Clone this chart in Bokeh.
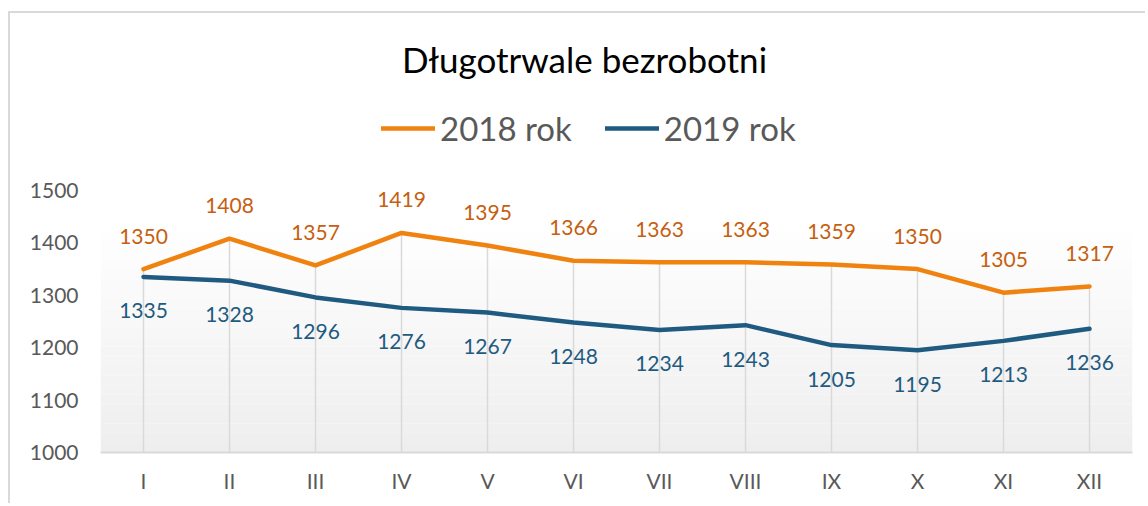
from bokeh.plotting import figure
from bokeh.models import (ColumnDataSource, Legend, LegendItem, Label, BoxAnnotation,
                          FixedTicker, FactorRange, Range1d)
from bokeh.embed import file_html
from bokeh.resources import INLINE
from bokeh.core.properties import value

# ---- data ----
months = ["I", "II", "III", "IV", "V", "VI", "VII", "VIII", "IX", "X", "XI", "XII"]
y2018 = [1350, 1408, 1357, 1419, 1395, 1366, 1363, 1363, 1359, 1350, 1305, 1317]
y2019 = [1335, 1328, 1296, 1276, 1267, 1248, 1234, 1243, 1205, 1195, 1213, 1236]
y_ticks = [1000, 1100, 1200, 1300, 1400, 1500]
title_text = "Długotrwale bezrobotni"
series_names = ["2018 rok", "2019 rok"]

ORANGE = "#f0820f"
ORANGE_TXT = "#c5600f"
BLUE = "#1f5b80"
BLUE_TXT = "#1f5b80"
GRAY_TXT = "#595959"
FONT = "Lato"

W, H = 1137, 492
FL, FR = 90, 1122          # frame left/right in canvas px
AXIS_TOP, FB = 177, 439    # pixel rows of the 1500 tick and of the axis (canvas px)

# frame reaches the canvas top so the title and legend can sit inside it
y_end = y_ticks[0] + (y_ticks[-1] - y_ticks[0]) * FB / (FB - AXIS_TOP)

src = ColumnDataSource(dict(
    m=months, a=y2018, b=y2019,
    at=[str(v) for v in y2018], bt=[str(v) for v in y2019],
    base=[y_ticks[0]] * len(months),
))

p = figure(width=W, height=H, x_range=FactorRange(*months, range_padding=0),
           y_range=Range1d(y_ticks[0], y_end),
           output_backend="svg", toolbar_location=None,
           min_border_left=FL, min_border_right=W - FR,
           min_border_top=0, min_border_bottom=H - FB)
p.styles = {"border-top": "2px solid #d9d9d9", "border-left": "2px solid #d9d9d9",
            "margin-top": "11px", "margin-left": "8px"}
p.outline_line_color = None
p.background_fill_color = "white"
p.border_fill_color = "white"
p.xgrid.visible = False
p.ygrid.visible = False

# gradient background of plot area (style only)
n = 24
g_top = 1440
for i in range(n):
    b0 = y_ticks[0] + (g_top - y_ticks[0]) * i / n
    b1 = y_ticks[0] + (g_top - y_ticks[0]) * (i + 1) / n
    t = 1 - (i + 0.5) / n  # 1 at bottom
    c = int(round(255 - (255 - 238) * t))
    p.add_layout(BoxAnnotation(bottom=b0, top=b1, fill_color=f"#{c:02x}{c:02x}{c:02x}",
                               fill_alpha=1, line_color=None, level="underlay"))

# drop lines
p.segment(x0="m", y0="base", x1="m", y1="a", source=src, line_color="#d9d9d9", line_width=1.5)

r1 = p.line("m", "a", source=src, line_color=ORANGE, line_width=4.5,
            line_join="round", line_cap="round")
r2 = p.line("m", "b", source=src, line_color=BLUE, line_width=4.5,
            line_join="round", line_cap="round")

p.text("m", "a", text="at", source=src, text_font=value(FONT), text_font_size="21px",
       text_color=ORANGE_TXT, text_align="center", text_baseline="middle", y_offset=-33)
p.text("m", "b", text="bt", source=src, text_font=value(FONT), text_font_size="21px",
       text_color=BLUE_TXT, text_align="center", text_baseline="middle", y_offset=34)

# axes
p.yaxis.ticker = FixedTicker(ticks=y_ticks)
p.yaxis.axis_line_color = None
p.yaxis.major_tick_line_color = None
p.yaxis.minor_tick_line_color = None
p.yaxis.major_tick_out = 0
p.yaxis.major_label_standoff = 22
p.yaxis.major_label_text_font = FONT
p.yaxis.major_label_text_font_size = "21px"
p.yaxis.major_label_text_color = GRAY_TXT

p.xaxis.axis_line_color = "#d9d9d9"
p.xaxis.axis_line_width = 2
p.xaxis.major_tick_line_color = None
p.xaxis.minor_tick_line_color = None
p.xaxis.major_tick_out = 0
p.xaxis.major_label_standoff = 15
p.xaxis.major_label_text_font = FONT
p.xaxis.major_label_text_font_size = "21px"
p.xaxis.major_label_text_color = GRAY_TXT

# title
p.add_layout(Label(x=574 - FL, y=FB - 45, x_units="screen", y_units="screen",
                   text=title_text, text_font=FONT, text_font_size="35px",
                   text_color="black", text_align="center", text_baseline="middle"))

# legend
legend = Legend(items=[LegendItem(label=series_names[0], renderers=[r1]),
                       LegendItem(label=series_names[1], renderers=[r2])],
                orientation="horizontal", location=(371 - FL, FB - 135),
                label_text_font=FONT, label_text_font_size="33px",
                label_text_color=GRAY_TXT, glyph_width=54, glyph_height=40,
                label_standoff=5, spacing=33, padding=0, margin=0,
                border_line_color=None, background_fill_alpha=0)
p.add_layout(legend, "center")

open("out.html", "w").write(file_html(p, INLINE))
